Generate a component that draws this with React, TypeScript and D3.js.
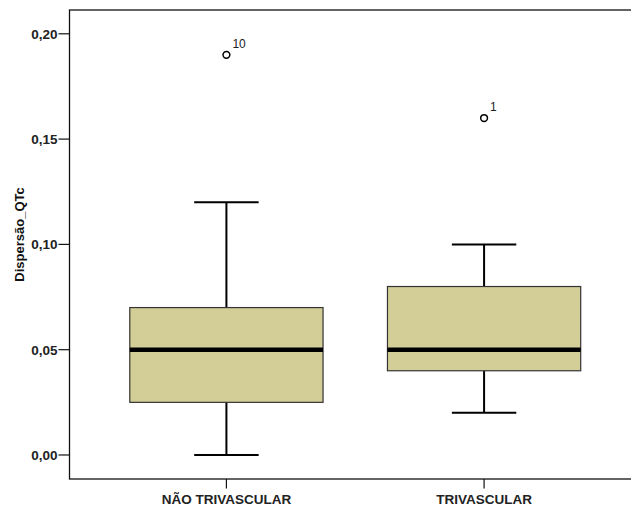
import React from "react";
import * as d3 from "d3";

// Box-plot summary per group
const groups = ["NÃO TRIVASCULAR", "TRIVASCULAR"];
const whiskerLow = [0.0, 0.02];
const q1 = [0.025, 0.04];
const median = [0.05, 0.05];
const q3 = [0.07, 0.08];
const whiskerHigh = [0.12, 0.1];
const outlierValues = [0.19, 0.16];
const outlierLabels = ["10", "1"];
const yTicks = [0.0, 0.05, 0.1, 0.15, 0.2];
const yTitle = "Dispersão_QTc";

const W = 631;
const H = 511;
const plot = { left: 69.5, right: 641, top: 10, bottom: 479 };

const ptBR = d3.formatLocale({
  decimal: ",",
  thousands: ".",
  grouping: [3],
  currency: ["R$", ""],
});
const fmt = ptBR.format(".2f");

const FONT = "'Liberation Sans', Arial, Helvetica, sans-serif";
const BOX_FILL = "#d3ce98";

export default function App() {
  const y = d3
    .scaleLinear()
    .domain([-0.0114, 0.2113])
    .range([plot.bottom, plot.top]);

  const x = d3
    .scaleBand<string>()
    .domain(groups)
    .range([plot.left, plot.right])
    .paddingInner(0.25)
    .paddingOuter(0.234);

  const bw = x.bandwidth();
  const capW = bw / 3;

  return (
    <svg
      width={W}
      height={H}
      style={{ position: "absolute", left: 0, top: 0, background: "#fff" }}
      fontFamily={FONT}
    >
      {/* plot frame */}
      <rect
        x={plot.left}
        y={plot.top}
        width={plot.right - plot.left}
        height={plot.bottom - plot.top}
        fill="none"
        stroke="#111"
        strokeWidth={1.3}
      />

      {/* y axis ticks and labels */}
      {yTicks.map((t) => (
        <g key={t}>
          <line
            x1={plot.left - 11}
            x2={plot.left}
            y1={y(t)}
            y2={y(t)}
            stroke="#111"
            strokeWidth={1.2}
          />
          <text
            x={plot.left - 12}
            y={y(t)}
            dy="0.36em"
            textAnchor="end"
            fontSize={13.5}
            fontWeight="bold"
            fill="#222"
          >
            {fmt(t)}
          </text>
        </g>
      ))}

      {/* y axis title */}
      <text
        transform={`translate(23.5, ${(plot.top + plot.bottom) / 2 - 10}) rotate(-90)`}
        textAnchor="middle"
        fontSize={13}
        fontWeight="bold"
        fill="#111"
      >
        {yTitle}
      </text>

      {/* x axis ticks and category labels */}
      {groups.map((g) => {
        const cx = (x(g) as number) + bw / 2;
        return (
          <g key={g}>
            <line
              x1={cx}
              x2={cx}
              y1={plot.bottom}
              y2={plot.bottom + 9.5}
              stroke="#111"
              strokeWidth={1.2}
            />
            <text
              x={cx}
              y={504}
              textAnchor="middle"
              fontSize={13.5}
              fontWeight="bold"
              fill="#222"
            >
              {g}
            </text>
          </g>
        );
      })}

      {/* boxes */}
      {groups.map((g, i) => {
        const x0 = x(g) as number;
        const cx = x0 + bw / 2;
        return (
          <g key={g}>
            {/* whiskers */}
            <line x1={cx} x2={cx} y1={y(q3[i])} y2={y(whiskerHigh[i])} stroke="#000" strokeWidth={2} />
            <line x1={cx} x2={cx} y1={y(q1[i])} y2={y(whiskerLow[i])} stroke="#000" strokeWidth={2} />
            <line
              x1={cx - capW / 2}
              x2={cx + capW / 2}
              y1={y(whiskerHigh[i])}
              y2={y(whiskerHigh[i])}
              stroke="#000"
              strokeWidth={2}
            />
            <line
              x1={cx - capW / 2}
              x2={cx + capW / 2}
              y1={y(whiskerLow[i])}
              y2={y(whiskerLow[i])}
              stroke="#000"
              strokeWidth={2}
            />
            {/* interquartile box */}
            <rect
              x={x0}
              y={y(q3[i])}
              width={bw}
              height={y(q1[i]) - y(q3[i])}
              fill={BOX_FILL}
              stroke="#333"
              strokeWidth={1.2}
            />
            {/* median */}
            <line
              x1={x0}
              x2={x0 + bw}
              y1={y(median[i])}
              y2={y(median[i])}
              stroke="#000"
              strokeWidth={4.5}
            />
            {/* outlier */}
            <circle
              cx={cx}
              cy={y(outlierValues[i])}
              r={3.4}
              fill="#fff"
              stroke="#000"
              strokeWidth={1.5}
            />
            <text
              x={cx + 6}
              y={y(outlierValues[i]) - 7}
              fontSize={12}
              fill="#222"
            >
              {outlierLabels[i]}
            </text>
          </g>
        );
      })}
    </svg>
  );
}
